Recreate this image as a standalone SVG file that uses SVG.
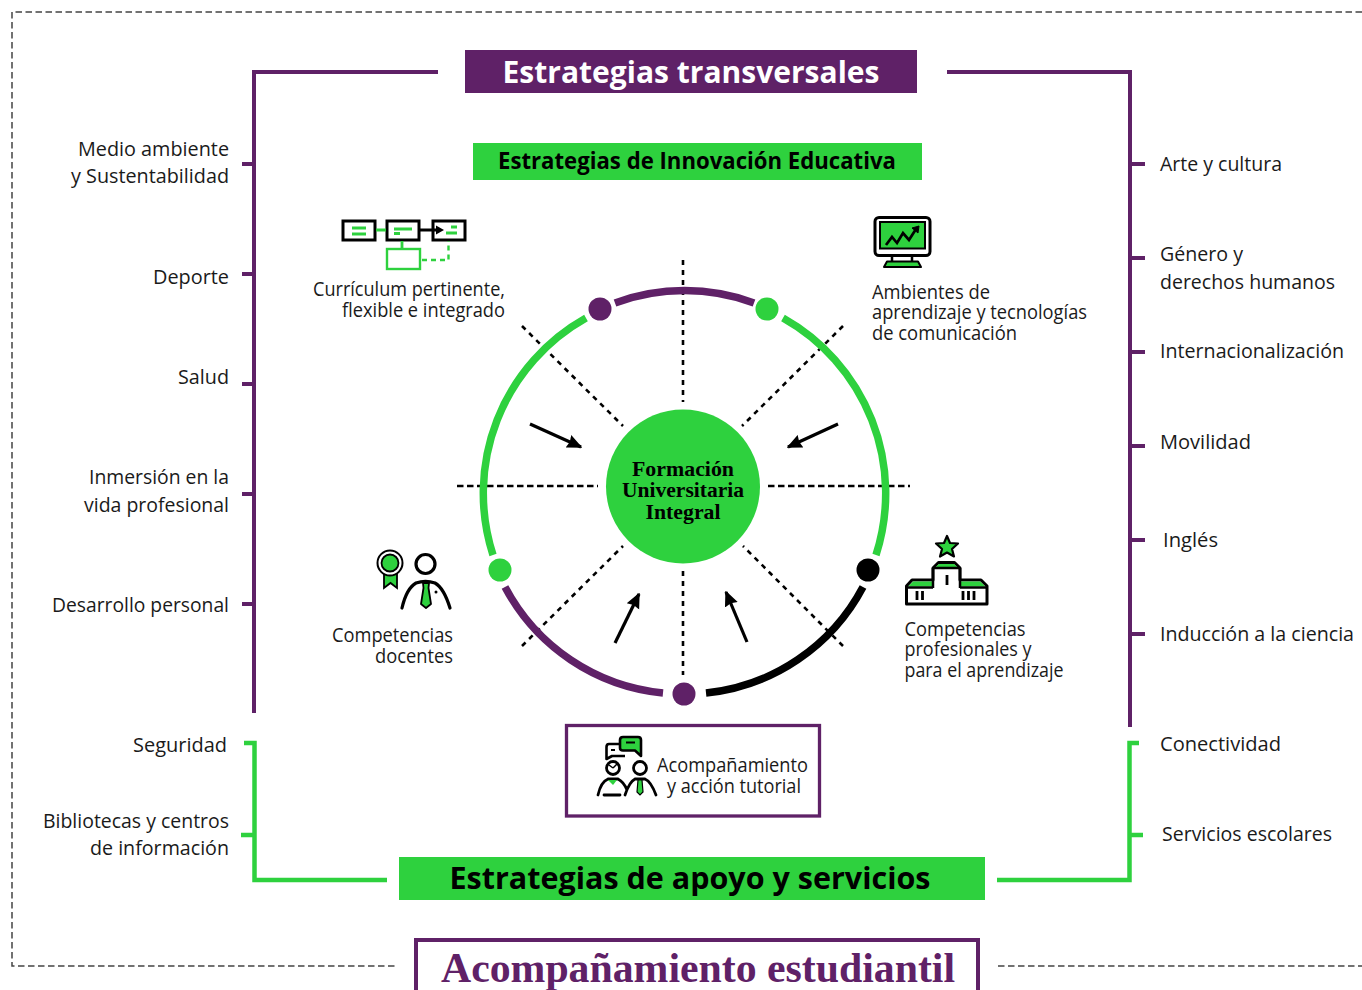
<svg xmlns="http://www.w3.org/2000/svg" width="1362" height="990" viewBox="0 0 1362 990">
<style>
text{font-family:"Open Sans","Noto Sans","Liberation Sans",sans-serif;fill:#1a1a1a;font-size:20.5px}
.s{font-size:19.5px}
.b{font-weight:700;fill:#000}
.serif{font-family:"Liberation Serif","DejaVu Serif",serif;font-weight:700}
.e{text-anchor:end}
.m{text-anchor:middle}
.p{stroke:#5f2167;fill:none}
.g{stroke:#2ed13e;fill:none}
.k{stroke:#000;fill:none}
.d{stroke:#000;stroke-width:2.6;stroke-dasharray:5 5;fill:none}
.gf{fill:#2ed13e}
</style>
<defs><marker id="ah" viewBox="0 0 10 10" refX="9" refY="5" markerWidth="4.8" markerHeight="4.8" orient="auto"><path d="M0 0.5L10 5L0 9.500L1 5Z" fill="#000"/></marker></defs>
<g id="frame"><path d="M1362 12H12V966H398M998 966H1362" fill="none" stroke="#444" stroke-width="1.500" stroke-dasharray="6.500 3.500"/></g>
<g id="connectors">
<path class="p" stroke-width="4" d="M438 72H254V713"/>
<path class="p" stroke-width="4" d="M947 72H1130V727"/>
<path class="p" stroke-width="4" d="M242 164H254M242 274H254M242 384H254M242 494H254M242 604H254"/>
<path class="p" stroke-width="4" d="M1130 164H1145M1130 258H1145M1130 352H1145M1130 446H1145M1130 540H1145M1130 634H1145"/>
<path class="g" stroke-width="4.500" d="M244 743H254.500V880H387M241 835H254"/>
<path class="g" stroke-width="4.500" d="M1139 743H1129.500V880H997M1130 835H1143"/>
<g id="spokes">
<path class="d" d="M683 260V402M683 571V675"/>
<path class="d" stroke-dasharray="6.500 3.500" style="stroke-dasharray:6.500 3.500" d="M457 486H598M768 486H910"/>
<path class="d" d="M522 326L623 426M843 326L742 426M522 646L623 546M843 646L743 546"/>
</g>
<g id="ring" stroke-width="7.500">
<path class="p" d="M615 303A201 201 0 0 1 754 303"/>
<path class="g" d="M783 318A201 201 0 0 1 876 555"/>
<path class="g" d="M586 318A201 201 0 0 0 493 555"/>
<path class="p" d="M505 587A201 201 0 0 0 663 693"/>
<path class="k" d="M863 587A201 201 0 0 1 706 693"/>
</g>
<g id="arrows" stroke="#000" stroke-width="3.200" marker-end="url(#ah)">
<path d="M530 424L581 447"/><path d="M838 424L788 447"/><path d="M615 643L639 594"/><path d="M747 642L726 592"/>
</g>
</g>
<g id="dots"><circle cx="600" cy="309" r="11.500" fill="#5f2167"/><circle cx="767" cy="309" r="11.500" fill="#2ed13e"/><circle cx="500" cy="570" r="11.500" fill="#2ed13e"/><circle cx="868" cy="570" r="11.500" fill="#000"/><circle cx="684" cy="694" r="11.500" fill="#5f2167"/></g>
<g id="center"><circle cx="683" cy="486.500" r="77" fill="#2ed13e"/>
<text class="serif m" x="683" y="476" style="font-size:21px;fill:#000" textLength="102" lengthAdjust="spacingAndGlyphs">Formación</text>
<text class="serif m" x="683" y="497" style="font-size:21px;fill:#000" textLength="122" lengthAdjust="spacingAndGlyphs">Universitaria</text>
<text class="serif m" x="683" y="519" style="font-size:21px;fill:#000" textLength="75" lengthAdjust="spacingAndGlyphs">Integral</text></g>
<g id="title-transversales"><rect x="465" y="50" width="452" height="43" fill="#5f2167"/><text class="b m" x="691" y="83" style="font-size:31px;fill:#fff" textLength="377" lengthAdjust="spacingAndGlyphs">Estrategias transversales</text></g>
<g id="title-innovacion"><rect x="473" y="143" width="449" height="37" fill="#2ed13e"/><text class="b m" x="697" y="169" style="font-size:22.500px" textLength="398" lengthAdjust="spacingAndGlyphs">Estrategias de Innovación Educativa</text></g>
<g id="title-apoyo"><rect x="399" y="857" width="586" height="43" fill="#2ed13e"/><text class="b m" x="690" y="889" style="font-size:31px" textLength="481" lengthAdjust="spacingAndGlyphs">Estrategias de apoyo y servicios</text></g>
<g id="title-acompanamiento"><path d="M416 990V940H978V990" fill="#fff" stroke="#5f2167" stroke-width="4"/><text class="serif m" x="698" y="982" style="font-size:43px;fill:#5f2167" textLength="514" lengthAdjust="spacingAndGlyphs">Acompañamiento estudiantil</text></g>
<g id="left-labels">
<text class="e" x="229" y="156" textLength="151" lengthAdjust="spacingAndGlyphs">Medio ambiente</text><text class="e" x="229" y="183" textLength="158" lengthAdjust="spacingAndGlyphs">y Sustentabilidad</text>
<text class="e" x="229" y="284" textLength="76" lengthAdjust="spacingAndGlyphs">Deporte</text>
<text class="e" x="229" y="384" textLength="51" lengthAdjust="spacingAndGlyphs">Salud</text>
<text class="e" x="229" y="484" textLength="140" lengthAdjust="spacingAndGlyphs">Inmersión en la</text><text class="e" x="229" y="512" textLength="145" lengthAdjust="spacingAndGlyphs">vida profesional</text>
<text class="e" x="229" y="612" textLength="177" lengthAdjust="spacingAndGlyphs">Desarrollo personal</text>
<text class="e" x="227" y="752" textLength="94" lengthAdjust="spacingAndGlyphs">Seguridad</text>
<text class="e" x="229" y="828" textLength="186" lengthAdjust="spacingAndGlyphs">Bibliotecas y centros</text><text class="e" x="229" y="855" textLength="139" lengthAdjust="spacingAndGlyphs">de información</text>
</g>
<g id="right-labels">
<text x="1160" y="171" textLength="122" lengthAdjust="spacingAndGlyphs">Arte y cultura</text>
<text x="1160" y="261" textLength="83" lengthAdjust="spacingAndGlyphs">Género y</text><text x="1160" y="289" textLength="175" lengthAdjust="spacingAndGlyphs">derechos humanos</text>
<text x="1160" y="358" textLength="184" lengthAdjust="spacingAndGlyphs">Internacionalización</text>
<text x="1160" y="449" textLength="91" lengthAdjust="spacingAndGlyphs">Movilidad</text>
<text x="1163" y="547" textLength="55" lengthAdjust="spacingAndGlyphs">Inglés</text>
<text x="1160" y="641" textLength="194" lengthAdjust="spacingAndGlyphs">Inducción a la ciencia</text>
<text x="1160" y="751" textLength="121" lengthAdjust="spacingAndGlyphs">Conectividad</text>
<text x="1162" y="841" textLength="170" lengthAdjust="spacingAndGlyphs">Servicios escolares</text>
</g>
<g id="curriculum">
<g fill="#fff" stroke="#000" stroke-width="3"><rect x="343" y="221" width="32" height="19"/><rect x="387" y="221" width="32" height="19"/><rect x="433" y="221" width="32" height="19"/></g>
<rect x="387" y="249" width="33" height="20" fill="#fff" stroke="#2ed13e" stroke-width="2.400"/>
<path class="g" stroke-width="2.800" d="M376 230H386M352 228H366M352 234H366M394 229H412M394 233.500H400M402 241V249M451 227H457M446 233H457"/>
<path class="g" stroke-width="2.400" stroke-dasharray="5 4" d="M422 260H448.500V241"/>
<path d="M420 230H438" stroke="#000" stroke-width="3" fill="none"/><path d="M436 225.500L444 230L436 234.500Z" fill="#000"/>
<text class="s e" x="505" y="296" textLength="192" lengthAdjust="spacingAndGlyphs">Currículum pertinente,</text><text class="s e" x="505" y="317" textLength="163" lengthAdjust="spacingAndGlyphs">flexible e integrado</text>
</g>
<g id="ambientes">
<path d="M892 255V262M912 255V262" stroke="#000" stroke-width="2.500"/>
<rect x="875" y="217.500" width="55" height="38" rx="4" fill="#fff" stroke="#000" stroke-width="3"/>
<rect x="880" y="222" width="45" height="26.500" class="gf" stroke="#000" stroke-width="2"/>
<path d="M886 245L892 237L897 243L903 233L909 240L916 229" fill="none" stroke="#000" stroke-width="2.700"/><path d="M912 228L919 226L918 233Z" fill="#000" stroke="#000"/>
<path d="M884 267L887 261.500H918L921 267Z" class="gf" stroke="#000" stroke-width="2" stroke-linejoin="round"/>
<text class="s" x="872" y="299" textLength="118" lengthAdjust="spacingAndGlyphs">Ambientes de</text><text class="s" x="872" y="319" textLength="215" lengthAdjust="spacingAndGlyphs">aprendizaje y tecnologías</text><text class="s" x="872" y="340" textLength="145" lengthAdjust="spacingAndGlyphs">de comunicación</text>
</g>
<g id="docentes">
<path d="M384 588V572H397V588L390.500 583Z" class="gf" stroke="#000" stroke-width="1.800"/>
<circle cx="390" cy="563" r="12.500" fill="#fff" stroke="#000" stroke-width="2"/><circle cx="390" cy="563" r="8.500" class="gf" stroke="#000" stroke-width="1.800"/>
<circle cx="425.500" cy="564" r="9.500" fill="#fff" stroke="#000" stroke-width="3.200"/>
<path d="M402 608C405 595 409 587 416 583C422 581 429 581 435 583C442 587 446 595 450 608" fill="none" stroke="#000" stroke-width="3.200" stroke-linecap="round"/>
<path d="M423 583H429L428.500 588L431 604L426 608L421 604L423.500 588Z" class="gf" stroke="#000" stroke-width="1.800" stroke-linejoin="round"/>
<circle cx="436" cy="592" r="1.500" fill="#000"/>
<text class="s e" x="453" y="642" textLength="121" lengthAdjust="spacingAndGlyphs">Competencias</text><text class="s e" x="453" y="663" textLength="78" lengthAdjust="spacingAndGlyphs">docentes</text>
</g>
<g id="profesionales">
<path d="M947 536L950 543L958 543.500L952 549L954 556.500L947 552.500L940 556.500L942 549L936 543.500L944 543Z" class="gf" stroke="#000" stroke-width="2.200" stroke-linejoin="round"/>
<path d="M906.500 604V586L912 580H933V568L938.500 562.500H954.500L960 568V580H981L987 586V604Z" fill="#fff" stroke="#000" stroke-width="3" stroke-linejoin="round"/>
<path d="M934.500 568L939 564H954L958.500 568ZM908 586.500L913 581.500H933V586.500ZM960 581.500H980L985.500 586.500H960Z" class="gf"/>
<path d="M933 568H960M933 568V588M960 568V588M907 587.500H933M960 587.500H987" stroke="#000" stroke-width="2.500" fill="none"/>
<path d="M947 575V585M917 591V600M922.500 591V600M963 591V600M968.500 591V600M974 591V600" stroke="#000" stroke-width="2.800"/>
<text class="s" x="904.500" y="636" textLength="121" lengthAdjust="spacingAndGlyphs">Competencias</text><text class="s" x="904.500" y="656" textLength="127" lengthAdjust="spacingAndGlyphs">profesionales y</text><text class="s" x="904.500" y="677" textLength="159" lengthAdjust="spacingAndGlyphs">para el aprendizaje</text>
</g>
<g id="tutorial">
<rect x="566.500" y="725.500" width="253" height="90.500" fill="#fff" stroke="#5f2167" stroke-width="3.300"/>
<path d="M620 744H609Q606.500 744 606.500 747V759L612 756H625" fill="none" stroke="#000" stroke-width="2.600" stroke-linejoin="round"/><path d="M611 750H615" stroke="#000" stroke-width="2"/>
<path d="M623 737H638Q641 737 641 740V756L635 750.500H623Q620 750.500 620 748V740Q620 737 623 737Z" class="gf" stroke="#000" stroke-width="2.600" stroke-linejoin="round"/><path d="M626 742.500H635" stroke="#000" stroke-width="2"/>
<circle cx="613" cy="768" r="6.500" fill="#fff" stroke="#000" stroke-width="2.800"/><path d="M613 768L609 765M613 768L617 764" stroke="#000" stroke-width="1.500"/><circle cx="640" cy="768" r="6.500" fill="#fff" stroke="#000" stroke-width="2.800"/>
<path d="M598 795C600 786 603 781 608 779H618C622 781 625 785 627 790M604 795H620M625 795C628 786 631 781 635 779H645C650 781 653 787 656 795" fill="none" stroke="#000" stroke-width="2.800" stroke-linecap="round"/>
<path d="M638 780H642L643 792L640 795L637 792Z" class="gf" stroke="#000" stroke-width="1.200"/><path d="M608 780H617L613 785Z" class="gf"/>
<text class="s" x="657" y="772" textLength="151" lengthAdjust="spacingAndGlyphs">Acompañamiento</text><text class="s" x="667" y="793" textLength="134" lengthAdjust="spacingAndGlyphs">y acción tutorial</text>
</g>
</svg>
